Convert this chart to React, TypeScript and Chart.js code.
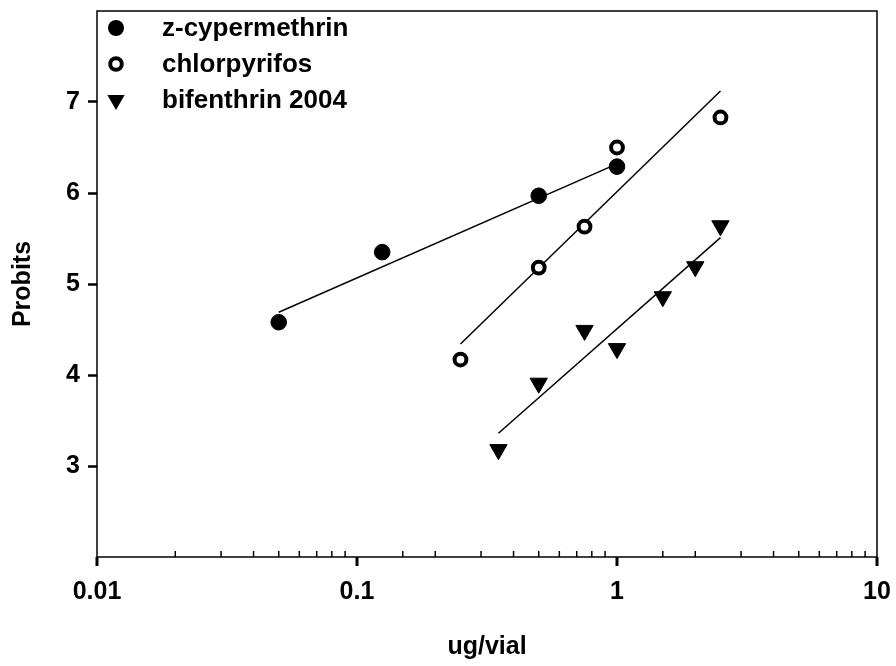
import React, { useEffect, useRef } from "react";
import { Chart, registerables } from "chart.js";

Chart.register(...registerables);

// ---- data ----
const seriesNames = ["z-cypermethrin", "chlorpyrifos", "bifenthrin 2004"];

const zcypDose = [0.05, 0.125, 0.5, 1];
const zcypProbit = [4.58, 5.35, 5.97, 6.29];

const chlorDose = [0.25, 0.5, 0.75, 1, 2.5];
const chlorProbit = [4.17, 5.18, 5.63, 6.5, 6.83];

const bifenDose = [0.35, 0.5, 0.75, 1, 1.5, 2, 2.5];
const bifenProbit = [3.18, 3.91, 4.49, 4.29, 4.86, 5.19, 5.64];

const zcypFitDose = [0.05, 1];
const zcypFitProbit = [4.69, 6.32];
const chlorFitDose = [0.25, 2.5];
const chlorFitProbit = [4.34, 7.12];
const bifenFitDose = [0.35, 2.5];
const bifenFitProbit = [3.36, 5.51];

const xMajorTicks = [0.01, 0.1, 1, 10];
const xTickLabels = ["0.01", "0.1", "1", "10"];
const yTickValues = [3, 4, 5, 6, 7];

const xTitle = "ug/vial";
const yTitle = "Probits";

const FONT = "'Liberation Sans', Arial, Helvetica, sans-serif";

const pts = (xs: number[], ys: number[]) => xs.map((x, i) => ({ x, y: ys[i] }));

const isMajor = (v: number) => Math.abs(Math.log10(v) - Math.round(Math.log10(v))) < 1e-6;

const framePlugin = {
  id: "frameAndTicks",
  afterDraw(chart: any) {
    const { ctx, chartArea } = chart;
    const { left, right, top, bottom } = chartArea;
    ctx.save();
    ctx.strokeStyle = "#000";
    ctx.lineWidth = 1.5;
    ctx.strokeRect(left, top, right - left, bottom - top);

    // x-axis ticks: majors outward & thick, minors inward & thin
    const xs = chart.scales.x;
    xs.ticks.forEach((t: any) => {
      const px = xs.getPixelForValue(t.value);
      ctx.beginPath();
      if (isMajor(t.value)) {
        ctx.lineWidth = 3;
        ctx.moveTo(px, bottom);
        ctx.lineTo(px, bottom + 9);
      } else {
        ctx.lineWidth = 1.5;
        ctx.moveTo(px, bottom);
        ctx.lineTo(px, bottom - 6);
      }
      ctx.stroke();
    });

    // legend inside plot area
    const mx = left + 19;
    const tx = left + 65;
    const rows = [top + 17, top + 53, top + 89];
    ctx.fillStyle = "#000";
    ctx.beginPath();
    ctx.arc(mx, rows[0], 8, 0, Math.PI * 2);
    ctx.fill();
    ctx.beginPath();
    ctx.lineWidth = 4;
    ctx.arc(mx, rows[1], 5.8, 0, Math.PI * 2);
    ctx.fillStyle = "#fff";
    ctx.fill();
    ctx.stroke();
    ctx.fillStyle = "#000";
    const r = 10;
    ctx.beginPath();
    ctx.moveTo(mx, rows[2] + r);
    ctx.lineTo(mx - r * 0.866, rows[2] - r / 2);
    ctx.lineTo(mx + r * 0.866, rows[2] - r / 2);
    ctx.closePath();
    ctx.fill();

    ctx.font = `bold 26px ${FONT}`;
    ctx.textBaseline = "middle";
    ctx.textAlign = "left";
    seriesNames.forEach((n, i) => ctx.fillText(n, tx, rows[i] + 1));
    ctx.restore();
  },
};

export default function App() {
  const ref = useRef<HTMLCanvasElement | null>(null);

  useEffect(() => {
    document.body.style.margin = "0";
    const canvas = ref.current;
    if (!canvas) return;

    const lineDs = (label: string, xs: number[], ys: number[]) => ({
      label,
      data: pts(xs, ys),
      showLine: true,
      borderColor: "#000",
      borderWidth: 1.5,
      pointRadius: 0,
      fill: false,
      order: 2,
    });

    const chart = new Chart(canvas, {
      type: "scatter",
      data: {
        datasets: [
          lineDs("fit1", zcypFitDose, zcypFitProbit),
          lineDs("fit2", chlorFitDose, chlorFitProbit),
          lineDs("fit3", bifenFitDose, bifenFitProbit),
          {
            label: seriesNames[0],
            data: pts(zcypDose, zcypProbit),
            pointStyle: "circle",
            pointRadius: 7.8,
            pointBackgroundColor: "#000",
            pointBorderColor: "#000",
            pointBorderWidth: 1,
            order: 1,
          },
          {
            label: seriesNames[1],
            data: pts(chlorDose, chlorProbit),
            pointStyle: "circle",
            pointRadius: 5.9,
            pointBackgroundColor: "#fff",
            pointBorderColor: "#000",
            pointBorderWidth: 4,
            order: 1,
          },
          {
            label: seriesNames[2],
            data: pts(bifenDose, bifenProbit),
            pointStyle: "triangle",
            pointRotation: 180,
            pointRadius: 10,
            pointBackgroundColor: "#000",
            pointBorderColor: "#000",
            pointBorderWidth: 1,
            order: 1,
          },
        ] as any,
      },
      options: {
        responsive: false,
        animation: false,
        devicePixelRatio: 1,
        layout: { padding: { top: 9, right: 19, left: 0, bottom: 0 } },
        plugins: {
          legend: { display: false },
          tooltip: { enabled: false },
        },
        scales: {
          x: {
            type: "logarithmic",
            min: 0.01,
            max: 10,
            border: { display: false },
            grid: { display: false, drawTicks: false },
            ticks: {
              autoSkip: false,
              maxRotation: 0,
              minRotation: 0,
              padding: 20,
              color: "#000",
              font: { family: FONT, size: 25, weight: "bold" },
              callback: (v: any) => {
                const idx = xMajorTicks.findIndex(
                  (m) => Math.abs(Math.log10(Number(v)) - Math.log10(m)) < 1e-6
                );
                return idx >= 0 ? xTickLabels[idx] : "";
              },
            },
            title: {
              display: true,
              text: xTitle,
              color: "#000",
              font: { family: FONT, size: 25, weight: "bold" },
              padding: { top: 0, bottom: 4 },
            },
            afterFit: (s: any) => {
              s.height = 109;
              s.paddingLeft = 0;
              s.paddingRight = 0;
            },
          },
          y: {
            type: "linear",
            min: 2,
            max: 8,
            border: { display: false },
            grid: {
              display: true,
              drawOnChartArea: false,
              drawTicks: true,
              tickLength: 9,
              tickWidth: 2.5,
              tickColor: "#000",
            },
            ticks: {
              padding: 8,
              color: "#000",
              font: { family: FONT, size: 25, weight: "bold" },
            },
            afterBuildTicks: (s: any) => {
              s.ticks = yTickValues.map((v) => ({ value: v }));
            },
            title: {
              display: true,
              text: yTitle,
              color: "#000",
              font: { family: FONT, size: 25, weight: "bold" },
              padding: { top: 8, bottom: 0 },
            },
            afterFit: (s: any) => {
              s.width = 97;
              s.paddingTop = 0;
              s.paddingBottom = 0;
            },
          },
        },
      } as any,
      plugins: [framePlugin],
    });

    return () => chart.destroy();
  }, []);

  return (
    <div style={{ position: "absolute", left: 0, top: 0, width: 896, height: 666, background: "#fff" }}>
      <canvas ref={ref} width={896} height={666} />
    </div>
  );
}
